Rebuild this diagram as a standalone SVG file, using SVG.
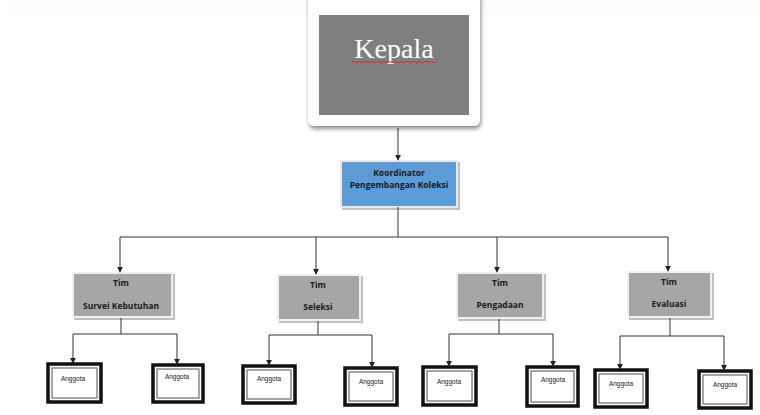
<svg xmlns="http://www.w3.org/2000/svg" width="760" height="415" viewBox="0 0 760 415">
  <defs>
    <marker id="arr" viewBox="0 0 8 8" refX="7" refY="4" markerWidth="6" markerHeight="6" markerUnits="userSpaceOnUse" orient="auto">
      <path d="M0,0 L8,4 L0,8 z" fill="#222"/>
    </marker>
    <filter id="shadow" x="-20%" y="-20%" width="140%" height="140%">
      <feGaussianBlur in="SourceAlpha" stdDeviation="2"/>
      <feOffset dx="1" dy="3"/>
      <feComponentTransfer><feFuncA type="linear" slope="0.45"/></feComponentTransfer>
      <feMerge><feMergeNode/><feMergeNode in="SourceGraphic"/></feMerge>
    </filter>
    <filter id="soft" x="-10%" y="-10%" width="130%" height="130%">
      <feOffset in="SourceAlpha" dx="2" dy="2"/>
      <feComponentTransfer><feFuncA type="linear" slope="0.25"/></feComponentTransfer>
      <feMerge><feMergeNode/><feMergeNode in="SourceGraphic"/></feMerge>
    </filter>
  </defs>
  <style>
    .conn { fill: none; stroke: #333; stroke-width: 1; }
    .tim { fill: #a6a6a6; stroke: #f0f0f0; stroke-width: 2; }
    .timtxt { font-family: "Open Sans", "Liberation Sans", sans-serif; font-size: 8.5px; font-weight: bold; fill: #1a1a1a; text-anchor: middle; }
    .outer { fill: #fff; stroke: #111; stroke-width: 3.5; }
    .inner { fill: #fff; stroke: #777; stroke-width: 1.3; }
    .ang { font-family: "Liberation Sans", Arial, sans-serif; font-size: 6.5px; fill: #222; text-anchor: middle; }
  </style>

  <rect x="0" y="0" width="760" height="415" fill="#fff"/>
  <rect x="8" y="0" width="752" height="15" fill="#fbfbfb"/>

  <!-- Kepala -->
  <g id="kepala">
    <rect x="308" y="-10" width="172" height="136" rx="6" fill="#fff" filter="url(#shadow)"/>
    <rect x="319" y="15" width="150" height="100" fill="#7f7f7f"/>
    <text x="394" y="58" font-family="Liberation Serif, 'Times New Roman', serif" font-size="28" fill="#fff" text-anchor="middle">Kepala</text>
    <path d="M352,62 q1.5,-1.2 3,0 t3,0 t3,0 t3,0 t3,0 t3,0 t3,0 t3,0 t3,0 t3,0 t3,0 t3,0 t3,0 t3,0 t3,0 t3,0 t3,0 t3,0 t3,0 t3,0 t3,0 t3,0 t3,0 t3,0 t3,0 t3,0 t3,0 t3,0" fill="none" stroke="#d22" stroke-width="0.9"/>
  </g>

  <!-- Koordinator -->
  <g id="koordinator">
    <rect x="341" y="161" width="116" height="46" fill="#5b9bd5" stroke="#e8e8e8" stroke-width="2" filter="url(#soft)"/>
    <text x="399" y="176" class="timtxt">Koordinator</text>
    <text x="399" y="188" class="timtxt">Pengembangan Koleksi</text>
  </g>

  <!-- Tim -->
  <g id="tim-survei">
    <rect x="73" y="273" width="99" height="44" class="tim" filter="url(#soft)"/>
    <text x="121" y="286" class="timtxt">Tim</text>
    <text x="121" y="309" class="timtxt">Survei Kebutuhan</text>
  </g>
  <g id="tim-seleksi">
    <rect x="278" y="275" width="82" height="45" class="tim" filter="url(#soft)"/>
    <text x="318" y="288" class="timtxt">Tim</text>
    <text x="318" y="310" class="timtxt">Seleksi</text>
  </g>
  <g id="tim-pengadaan">
    <rect x="457" y="273" width="86" height="45" class="tim" filter="url(#soft)"/>
    <text x="500" y="286" class="timtxt">Tim</text>
    <text x="500" y="308" class="timtxt">Pengadaan</text>
  </g>
  <g id="tim-evaluasi">
    <rect x="628" y="272" width="83" height="45" class="tim" filter="url(#soft)"/>
    <text x="669" y="285" class="timtxt">Tim</text>
    <text x="669" y="307" class="timtxt">Evaluasi</text>
  </g>

  <!-- Anggota -->
  <g id="anggota-1a"><rect x="48" y="364" width="53" height="38" class="outer"/><rect x="52" y="368" width="45" height="30" class="inner"/><text x="73" y="381" class="ang">Anggota</text></g>
  <g id="anggota-1b"><rect x="153" y="365" width="50" height="37" class="outer"/><rect x="157" y="369" width="42" height="29" class="inner"/><text x="177" y="379" class="ang">Anggota</text></g>
  <g id="anggota-2a"><rect x="243" y="366" width="52" height="37" class="outer"/><rect x="247" y="370" width="44" height="29" class="inner"/><text x="269" y="381" class="ang">Anggota</text></g>
  <g id="anggota-2b"><rect x="345" y="368" width="52" height="37" class="outer"/><rect x="349" y="372" width="44" height="29" class="inner"/><text x="371" y="384" class="ang">Anggota</text></g>
  <g id="anggota-3a"><rect x="423" y="367" width="53" height="38" class="outer"/><rect x="427" y="371" width="45" height="30" class="inner"/><text x="449" y="384" class="ang">Anggota</text></g>
  <g id="anggota-3b"><rect x="527" y="367" width="51" height="39" class="outer"/><rect x="531" y="371" width="43" height="31" class="inner"/><text x="553" y="382" class="ang">Anggota</text></g>
  <g id="anggota-4a"><rect x="595" y="370" width="52" height="37" class="outer"/><rect x="599" y="374" width="44" height="29" class="inner"/><text x="621" y="386" class="ang">Anggota</text></g>
  <g id="anggota-4b"><rect x="699" y="371" width="52" height="37" class="outer"/><rect x="703" y="375" width="44" height="29" class="inner"/><text x="725" y="387" class="ang">Anggota</text></g>

  <!-- Connectors -->
  <g id="connectors">
    <path class="conn" d="M398,128 V160" marker-end="url(#arr)"/>
    <path class="conn" d="M398,207 V237 M120,237 H668"/>
    <path class="conn" d="M120,237 V272" marker-end="url(#arr)"/>
    <path class="conn" d="M316,237 V274" marker-end="url(#arr)"/>
    <path class="conn" d="M497,237 V272" marker-end="url(#arr)"/>
    <path class="conn" d="M668,237 V271" marker-end="url(#arr)"/>

    <path class="conn" d="M121,318 V334 M73,334 H177"/>
    <path class="conn" d="M73,334 V363" marker-end="url(#arr)"/>
    <path class="conn" d="M177,334 V364" marker-end="url(#arr)"/>

    <path class="conn" d="M318,321 V335 M269,335 H372"/>
    <path class="conn" d="M269,335 V365" marker-end="url(#arr)"/>
    <path class="conn" d="M372,335 V367" marker-end="url(#arr)"/>

    <path class="conn" d="M499,319 V334 M449,334 H553"/>
    <path class="conn" d="M449,334 V366" marker-end="url(#arr)"/>
    <path class="conn" d="M553,334 V366" marker-end="url(#arr)"/>

    <path class="conn" d="M670,318 V336 M620,336 H724"/>
    <path class="conn" d="M620,336 V369" marker-end="url(#arr)"/>
    <path class="conn" d="M724,336 V370" marker-end="url(#arr)"/>
  </g>
</svg>
